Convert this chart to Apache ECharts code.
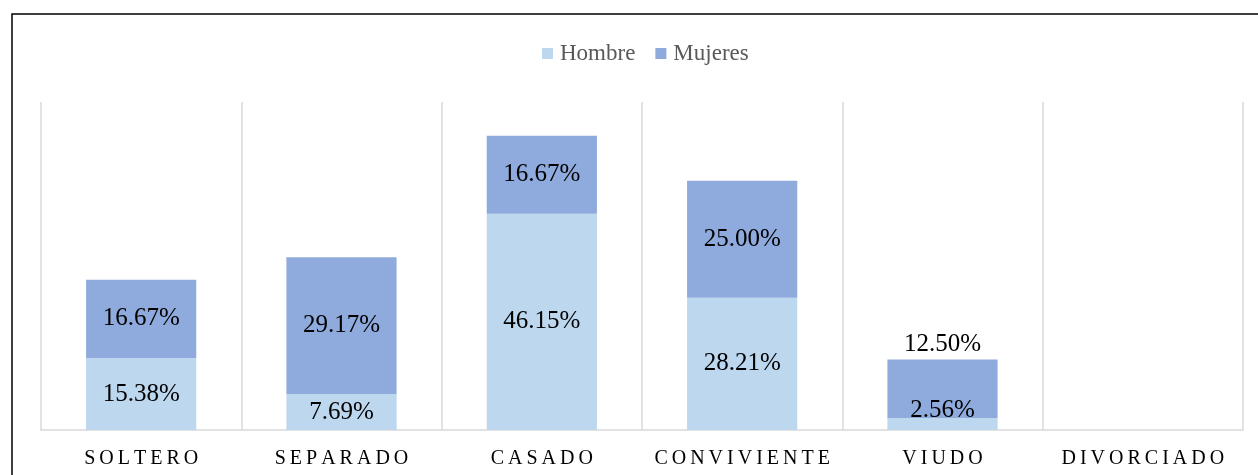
<!DOCTYPE html>
<html>
<head>
<meta charset="utf-8">
<script src="https://cdn.jsdelivr.net/npm/echarts@6/dist/echarts.min.js"></script>
<style>
  html, body { margin: 0; padding: 0; background: #fff; }
  #chart { width: 1258px; height: 475px; }
</style>
</head>
<body>
<div id="chart"></div>
<script>
// ── Data ────────────────────────────────────────────────────────────────
const categories = ['SOLTERO', 'SEPARADO', 'CASADO', 'CONVIVIENTE', 'VIUDO', 'DIVORCIADO'];
const hombre = [15.38, 7.69, 46.15, 28.21, 2.56, null];
const mujeres = [16.67, 29.17, 16.67, 25.00, 12.50, null];

const SERIF = "'Liberation Serif', 'Times New Roman', serif";
// the original axis labels are letter-spaced; a thin space between letters mimics that
const spaced = (s) => s.split('').join('\u2009');

// VIUDO labels were nudged by hand in the original (too small to sit inside)
const hombreData = hombre.map((v, i) => i === 4
  ? { value: v, label: { offset: [0, -14] } }
  : v);
const mujeresData = mujeres.map((v, i) => i === 4
  ? { value: v, label: { position: 'top', distance: 2 } }
  : v);

const pct = (p) => p.value == null ? '' : p.value.toFixed(2) + '%';

const chart = echarts.init(document.getElementById('chart'));

chart.setOption({
  animation: false,
  textStyle: { fontFamily: SERIF },
  legend: {
    top: 37,
    left: 537,
    itemWidth: 11,
    itemHeight: 11,
    itemGap: 20,
    icon: 'rect',
    textStyle: { fontFamily: SERIF, fontSize: 23, color: '#595959', padding: [0, 0, 0, 2] },
    data: ['Hombre', 'Mujeres'],
  },
  grid: { left: 41, right: 15, top: 102, bottom: 45 },
  xAxis: {
    type: 'category',
    data: categories,
    axisTick: { show: false },
    axisLine: { lineStyle: { color: '#D9D9D9', width: 1.5 } },
    splitLine: { show: true, interval: 0, lineStyle: { color: '#D9D9D9', width: 1.5 } },
    axisLabel: {
      interval: 0,
      margin: 19,
      fontFamily: SERIF,
      fontSize: 20,
      color: '#000',
      formatter: spaced,
    },
  },
  yAxis: {
    type: 'value',
    min: 0,
    max: 70,
    show: false,
    splitLine: { show: false },
  },
  series: [
    {
      name: 'Hombre',
      type: 'bar',
      stack: 'total',
      barWidth: '55%',
      itemStyle: { color: '#BDD7EE' },
      label: { show: true, position: 'inside', fontFamily: SERIF, fontSize: 25, color: '#000', formatter: pct },
      data: hombreData,
    },
    {
      name: 'Mujeres',
      type: 'bar',
      stack: 'total',
      barWidth: '55%',
      itemStyle: { color: '#8FAADC' },
      label: { show: true, position: 'inside', fontFamily: SERIF, fontSize: 25, color: '#000', formatter: pct },
      data: mujeresData,
    },
  ],
  graphic: [
    {
      type: 'rect',
      shape: { x: 12, y: 14, width: 1400, height: 600 },
      style: { fill: 'none', stroke: '#000', lineWidth: 1.5 },
      silent: true,
    },
  ],
});
</script>
</body>
</html>
